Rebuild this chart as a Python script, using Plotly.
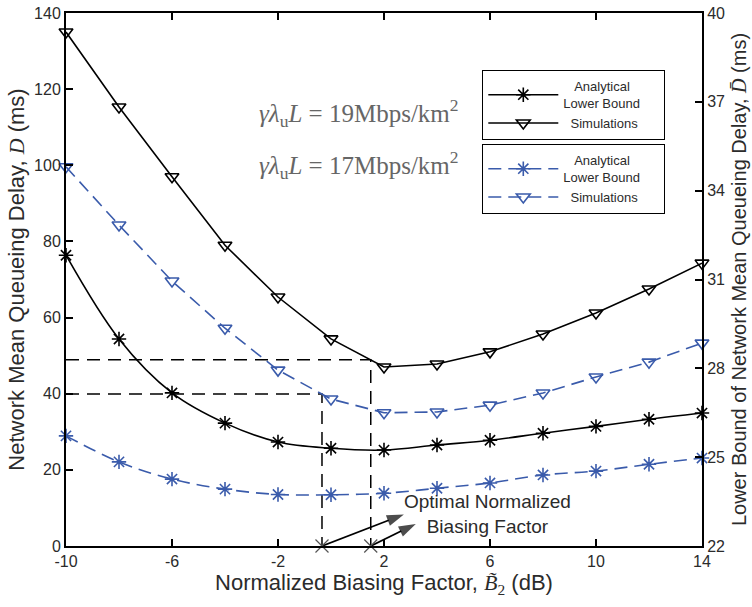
import plotly.graph_objects as go

# ---- data ----
bias_db = [-10, -8, -6, -4, -2, 0, 2, 4, 6, 8, 10, 12, 14]
sim_19 = [135.0, 115.3, 97.0, 79.0, 65.4, 54.4, 47.0, 47.8, 51.0, 55.7, 61.2, 67.5, 74.3]
sim_17 = [99.6, 84.3, 69.6, 57.2, 46.2, 38.6, 35.0, 35.2, 37.0, 40.2, 44.4, 48.3, 53.3]
lb_19 = [31.82, 28.99, 27.17, 26.15, 25.51, 25.30, 25.24, 25.41, 25.57, 25.81, 26.04, 26.28, 26.49]
lb_17 = [25.72, 24.84, 24.26, 23.92, 23.74, 23.73, 23.78, 23.95, 24.13, 24.40, 24.53, 24.76, 24.97]
opt_x = [1.5, -0.34]
opt_y = [48.9, 39.9]
arrow_tail_x = [-0.34, 1.5]
arrow_head_x = [2.75, 3.2]
arrow_head_y = [8.3, 5.8]
x_ticks = [-10, -6, -2, 2, 6, 10, 14]
x_ticktext = ["-10", "-6", "-2", "2", "6", "10", "14"]
y_ticks = [0, 20, 40, 60, 80, 100, 120, 140]
y2_ticks = [22, 25, 28, 31, 34, 37, 40]

BLACK = "#000000"
BLUE = "#3a5bab"
TXT = "#2b2b2b"
SANS = "Liberation Sans, Arial, sans-serif"
SERIF = "Liberation Serif, DejaVu Serif, serif"
NB = "\u00a0"

fig = go.Figure()

# dashed guide lines at the optimal biasing factors
for ox, oy in zip(opt_x, opt_y):
    fig.add_trace(go.Scatter(x=[-10, ox, ox], y=[oy, oy, 0], mode="lines",
                             line=dict(color=BLACK, width=1.5, dash="13px,8px"),
                             showlegend=False, hoverinfo="skip", cliponaxis=False))

# 19 Mbps/km^2
fig.add_trace(go.Scatter(x=bias_db, y=lb_19, yaxis="y2", mode="lines+markers",
                         name=NB * 3 + "Analytical" + NB * 6 + "<br>Lower Bound" + NB * 5,
                         line=dict(color=BLACK, width=1.6, shape="spline"),
                         marker=dict(symbol="asterisk-open", size=12, color=BLACK,
                                     line=dict(color=BLACK, width=1.6)),
                         legend="legend", cliponaxis=False))
fig.add_trace(go.Scatter(x=bias_db, y=sim_19, mode="lines+markers",
                         name=NB * 2 + "Simulations",
                         line=dict(color=BLACK, width=1.6),
                         marker=dict(symbol="triangle-down-open", size=12, color=BLACK,
                                     line=dict(color=BLACK, width=1.6)),
                         legend="legend", cliponaxis=False))
# 17 Mbps/km^2
fig.add_trace(go.Scatter(x=bias_db, y=lb_17, yaxis="y2", mode="lines+markers",
                         name=NB * 3 + "Analytical" + NB * 6 + "<br>Lower Bound" + NB * 5,
                         line=dict(color=BLUE, width=1.6, shape="spline", dash="13px,7px"),
                         marker=dict(symbol="asterisk-open", size=12, color=BLUE,
                                     line=dict(color=BLUE, width=1.6)),
                         legend="legend2", cliponaxis=False))
fig.add_trace(go.Scatter(x=bias_db, y=sim_17, mode="lines+markers",
                         name=NB * 2 + "Simulations",
                         line=dict(color=BLUE, width=1.6, dash="13px,7px"),
                         marker=dict(symbol="triangle-down-open", size=12, color=BLUE,
                                     line=dict(color=BLUE, width=1.6)),
                         legend="legend2", cliponaxis=False))

# arrows from the optimum points to the label
for tx, hx, hy in zip(arrow_tail_x, arrow_head_x, arrow_head_y):
    fig.add_trace(go.Scatter(x=[tx, hx], y=[0, hy], mode="lines+markers",
                             line=dict(color=BLACK, width=1.8),
                             marker=dict(symbol=["circle", "arrow"], size=[0, 18],
                                         angleref="previous", color=BLACK,
                                         line=dict(width=0)),
                             showlegend=False, hoverinfo="skip", cliponaxis=False))

# optimum markers on the x axis
fig.add_trace(go.Scatter(x=opt_x, y=[0, 0], mode="markers",
                         marker=dict(symbol="x-thin-open", size=13, color="#555555",
                                     line=dict(color="#555555", width=1.2)),
                         showlegend=False, hoverinfo="skip", cliponaxis=False))

W, H = 752, 607
ML, MR, MT, MB = 66, 50, 13, 61
pw, ph = W - ML - MR, H - MT - MB


def px(xp):
    return (xp - ML) / pw


def py(yp):
    return (H - MB - yp) / ph


annotations = [
    dict(x=5.89, y=8.4, xref="x", yref="y", showarrow=False,
         text="Optimal Normalized<br>Biasing Factor",
         font=dict(family=SANS, size=19, color=TXT), align="center"),
    dict(x=px(257), y=py(113), xref="paper", yref="paper", showarrow=False,
         xanchor="left", yanchor="middle",
         text="<i>γλ</i><sub>u</sub><i>L</i> = 19Mbps/km<sup>2</sup>",
         font=dict(family=SERIF, size=25, color="#666666")),
    dict(x=px(257), y=py(165), xref="paper", yref="paper", showarrow=False,
         xanchor="left", yanchor="middle",
         text="<i>γλ</i><sub>u</sub><i>L</i> = 17Mbps/km<sup>2</sup>",
         font=dict(family=SERIF, size=25, color="#666666")),
]

axis_common = dict(showline=True, linecolor=BLACK, linewidth=2, ticks="inside",
                   ticklen=7, tickwidth=1.6, tickcolor=BLACK, showgrid=False,
                   zeroline=False, tickfont=dict(family=SANS, size=16, color=TXT))

legend_common = dict(xanchor="left", yanchor="top", bgcolor="white",
                     bordercolor=BLACK, borderwidth=1.3,
                     font=dict(family=SANS, size=13, color=TXT),
                     itemwidth=70, tracegroupgap=0, valign="middle")

fig.update_layout(
    width=W, height=H,
    margin=dict(l=ML, r=MR, t=MT, b=MB, autoexpand=False),
    paper_bgcolor="white", plot_bgcolor="white",
    font=dict(family=SANS, color=TXT),
    xaxis=dict(range=[-10, 14], tickvals=x_ticks, ticktext=x_ticktext, mirror="ticks",
               title=dict(text="Normalized Biasing Factor, <span style='font-family:Liberation Serif'><i>B̃</i><sub>2</sub></span> (dB)",
                          font=dict(family=SANS, size=22, color=TXT), standoff=4),
               **axis_common),
    yaxis=dict(range=[0, 140], tickvals=y_ticks, mirror=True,
               title=dict(text="Network Mean Queueing Delay, <span style='font-family:Liberation Serif'><i>D</i></span> (ms)",
                          font=dict(family=SANS, size=22, color=TXT), standoff=3),
               **axis_common),
    yaxis2=dict(range=[22, 40], tickvals=y2_ticks, overlaying="y", side="right",
                title=dict(text="Lower Bound of Network Mean Queueing Delay, <span style='font-family:Liberation Serif'><i>D̄</i></span> (ms)",
                           font=dict(family=SANS, size=20, color=TXT), standoff=8),
                **axis_common),
    legend=dict(x=px(482), y=py(70), **legend_common),
    legend2=dict(x=px(482), y=py(144), **legend_common),
    annotations=annotations,
    showlegend=True,
)

fig.write_html("out.html")
